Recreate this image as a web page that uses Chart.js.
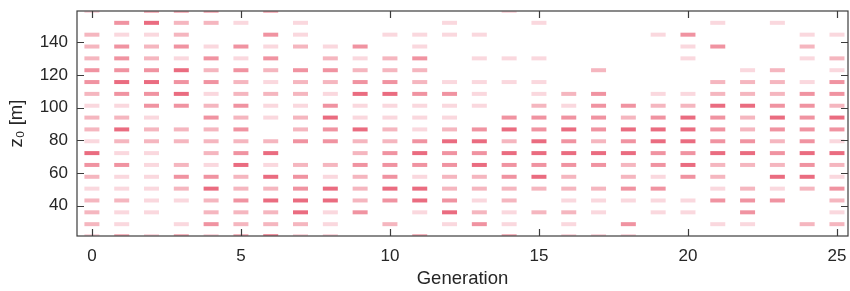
<!DOCTYPE html>
<html>
<head>
<meta charset="utf-8">
<script src="https://cdn.jsdelivr.net/npm/chart.js@4.4.1/dist/chart.umd.min.js"></script>
<style>
	html, body { margin: 0; padding: 0; background: #ffffff; }
	#wrap { width: 850px; height: 291px; }
</style>
</head>
<body>
<div id="wrap"><canvas id="chart" width="850" height="291"></canvas></div>
<script>
	// generation index (x) and the z0 levels of the grid (y, bottom to top)
	var generations = [0, 1, 2, 3, 4, 5, 6, 7, 8, 9, 10, 11, 12, 13, 14, 15, 16, 17, 18, 19, 20, 21, 22, 23, 24, 25];
	var zLevels = [21.5, 28.75, 36, 43.25, 50.5, 57.75, 65, 72.25, 79.5, 86.75, 94, 101.25, 108.5, 115.75, 123, 130.25, 137.5, 144.75, 152, 159.25];
	var xTicks = [0, 5, 10, 15, 20, 25];
	var yTicks = [40, 60, 80, 100, 120, 140];

	// shade level per cell (0 = empty, 4 = darkest), one row per generation, z from bottom to top
	var density = [
		[1,2,2,2,1,2,3,4,1,2,2,1,2,3,3,2,2,2,0,1], // 0
		[2,1,1,2,1,1,3,1,2,4,2,1,3,4,3,3,3,1,3,0], // 1
		[1,0,1,1,1,1,1,1,2,2,1,3,3,4,3,2,2,1,4,2], // 2
		[2,1,0,1,2,3,2,0,2,2,0,3,4,3,4,1,3,2,2,2], // 3
		[1,3,2,2,4,3,1,2,2,2,3,2,1,3,2,3,1,0,2,2], // 4
		[2,2,2,3,2,2,4,3,2,3,2,3,2,2,3,1,3,0,1,0], // 5
		[3,2,2,4,2,4,1,4,2,0,1,1,2,1,2,3,1,3,0,2], // 6
		[1,2,4,4,3,3,2,0,3,2,2,1,2,2,3,0,2,1,1,0], // 7
		[1,1,1,4,4,1,2,0,3,3,4,3,1,2,3,2,1,0,0,0], // 8
		[0,0,3,2,2,2,3,2,2,4,1,1,4,3,2,1,3,0,0,0], // 9
		[0,2,0,3,4,3,3,3,2,2,1,1,4,3,2,2,0,1,0,0], // 10
		[2,0,1,4,4,1,3,4,3,1,1,1,3,2,2,3,1,1,0,0], // 11
		[0,1,4,3,2,2,3,3,4,2,1,1,3,1,0,0,0,1,1,0], // 12
		[0,3,2,1,2,2,4,3,4,3,0,1,1,1,0,1,0,1,0,0], // 13
		[2,1,1,2,2,3,3,4,2,4,3,0,0,1,0,1,0,0,0,1], // 14
		[0,0,2,0,2,4,3,4,4,3,3,2,1,1,0,1,0,0,1,0], // 15
		[1,1,2,1,2,2,3,4,3,4,3,1,2,0,0,0,0,0,0,0], // 16
		[1,0,1,1,2,0,3,4,2,3,3,3,3,0,2,0,0,0,0,0], // 17
		[1,3,0,1,3,2,2,4,3,4,2,3,0,0,0,0,0,0,0,0], // 18
		[0,0,1,1,3,1,3,3,4,4,3,2,1,0,0,0,0,1,0,0], // 19
		[0,0,1,1,0,3,4,3,4,4,4,2,1,0,0,1,1,3,0,0], // 20
		[0,1,0,3,1,2,2,4,3,3,3,4,2,2,0,0,3,0,1,0], // 21
		[0,1,3,3,2,0,2,4,3,2,2,4,2,2,1,0,0,0,0,0], // 22
		[0,0,0,3,1,4,2,3,2,3,4,3,2,2,2,0,0,0,1,0], // 23
		[0,2,0,0,2,4,3,4,3,3,3,3,3,1,0,1,2,1,0,0], // 24
		[0,2,1,2,3,1,2,4,1,3,4,2,3,3,1,2,0,1,0,0]  // 25
	];

	var shadeAlpha = [0, 0.2, 0.38, 0.56, 0.76];
	var textColor = '#262626';
	var axisColor = '#3c3c3c';

	var points = [];
	for (var g = 0; g < generations.length; g++) {
		for (var k = 0; k < zLevels.length; k++) {
			var v = density[g][k];
			if (v > 0) {
				points.push({ x: generations[g], y: zLevels[k], v: v });
			}
		}
	}

	// MATLAB like box with inward ticks
	var boxPlugin = {
		id: 'box',
		afterDraw: function(chart) {
			var ctx = chart.ctx;
			var a = chart.chartArea;
			var xs = chart.scales.x;
			var ys = chart.scales.y;
			var len = 7;
			ctx.save();
			ctx.strokeStyle = axisColor;
			ctx.lineWidth = 1.2;
			ctx.beginPath();
			xs.ticks.forEach(function(t) {
				var px = Math.round(xs.getPixelForValue(t.value)) + 0.5;
				ctx.moveTo(px, a.bottom); ctx.lineTo(px, a.bottom - len);
				ctx.moveTo(px, a.top); ctx.lineTo(px, a.top + len);
			});
			ys.ticks.forEach(function(t) {
				var py = Math.round(ys.getPixelForValue(t.value)) + 0.5;
				ctx.moveTo(a.left, py); ctx.lineTo(a.left + len, py);
				ctx.moveTo(a.right, py); ctx.lineTo(a.right - len, py);
			});
			ctx.stroke();
			ctx.strokeRect(a.left, a.top, a.right - a.left, a.bottom - a.top);
			ctx.restore();
		}
	};

	var ctx = document.getElementById('chart');
	var myChart = new Chart(ctx, {
		type: 'scatter',
		data: {
			datasets: [{
				data: points,
				showLine: false,
				clip: 0,
				pointStyle: 'line',
				pointRadius: 7.5,
				pointHoverRadius: 7.5,
				pointBorderWidth: 4,
				pointHoverBorderWidth: 4,
				pointBorderColor: function(c) {
					var v = c.raw ? c.raw.v : 0;
					return 'rgba(228, 62, 88, ' + shadeAlpha[v] + ')';
				},
				pointBackgroundColor: 'rgba(0,0,0,0)'
			}]
		},
		options: {
			responsive: false,
			animation: false,
			events: [],
			layout: { autoPadding: false, padding: { top: 11, right: 2, left: 0, bottom: 0 } },
			plugins: {
				legend: { display: false },
				tooltip: { enabled: false }
			},
			scales: {
				x: {
					type: 'linear',
					min: -0.5,
					max: 25.37,
					afterFit: function(s) { s.height = 55; s.paddingLeft = 0; s.paddingRight = 0; },
					afterBuildTicks: function(s) { s.ticks = xTicks.map(function(v) { return { value: v }; }); },
					grid: { display: false, drawTicks: false },
					border: { display: false },
					ticks: { color: textColor, padding: 10, font: { family: 'Liberation Sans, Arial, sans-serif', size: 17 } },
					title: {
						display: true,
						text: 'Generation',
						color: textColor,
						padding: { top: 0, bottom: 1 },
						font: { family: 'Liberation Sans, Arial, sans-serif', size: 18.5 }
					}
				},
				y: {
					type: 'linear',
					min: 21.5,
					max: 159.25,
					afterFit: function(s) { s.width = 77; s.paddingTop = 0; s.paddingBottom = 0; },
					afterBuildTicks: function(s) { s.ticks = yTicks.map(function(v) { return { value: v }; }); },
					grid: { display: false, drawTicks: false },
					border: { display: false },
					ticks: { color: textColor, padding: 9, font: { family: 'Liberation Sans, Arial, sans-serif', size: 17 } },
					title: {
						display: true,
						text: 'z\u2080 [m]',
						color: textColor,
						padding: { top: 6, bottom: 0 },
						font: { family: 'Liberation Sans, Arial, sans-serif', size: 18.5 }
					}
				}
			}
		},
		plugins: [boxPlugin]
	});
</script>
</body>
</html>
